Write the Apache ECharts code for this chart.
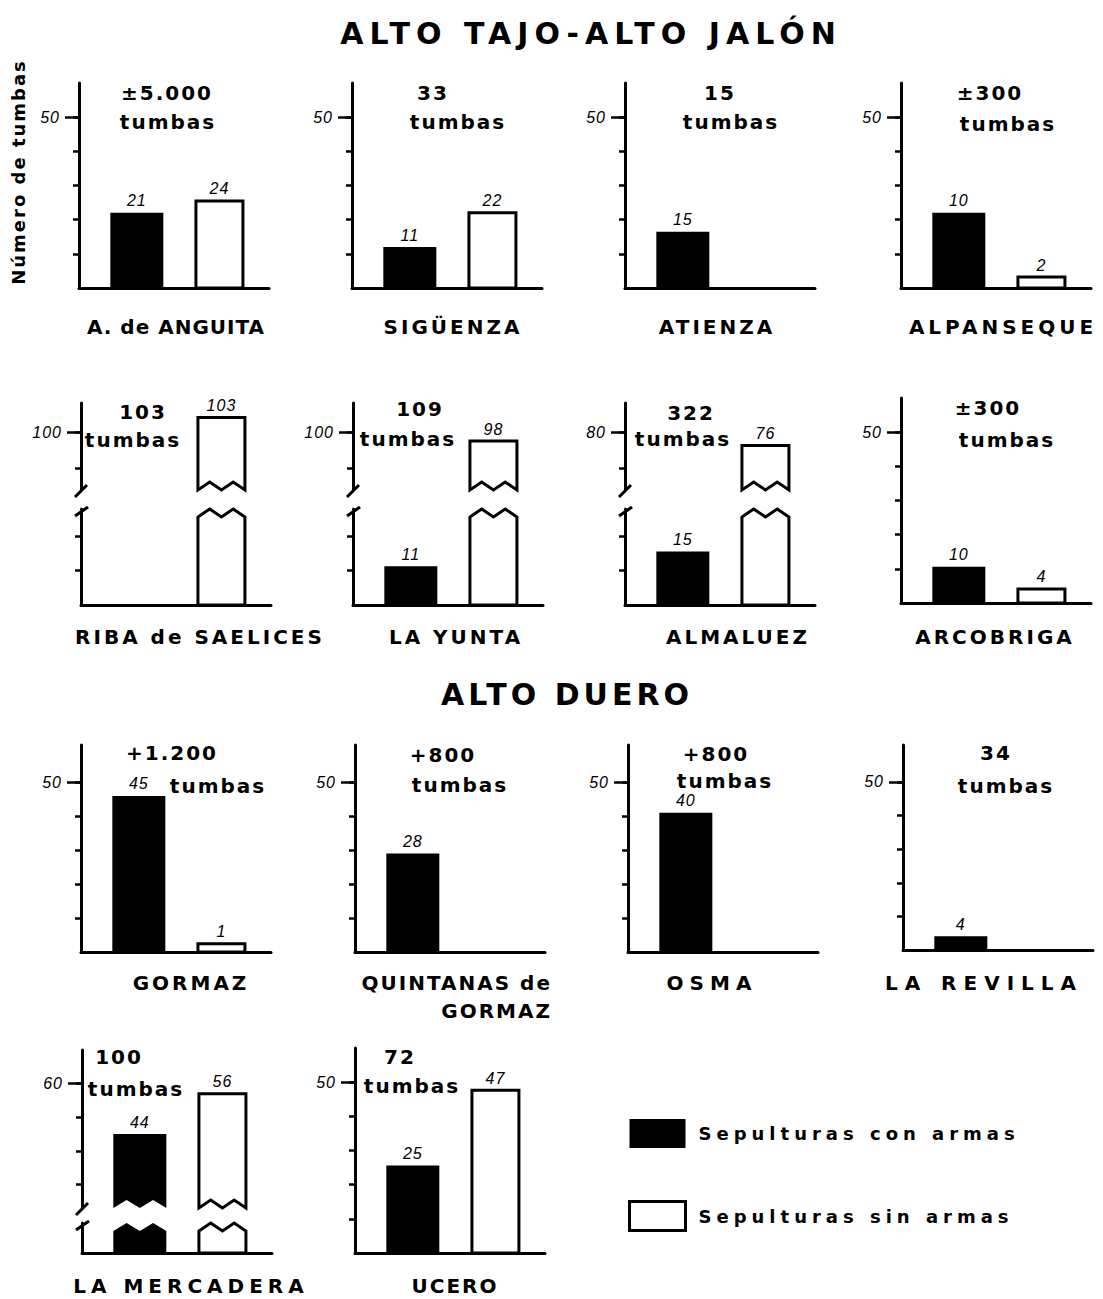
<!DOCTYPE html>
<html>
<head>
<meta charset="utf-8">
<script src="https://cdn.jsdelivr.net/npm/echarts@6/dist/echarts.min.js"></script>
<style>
  html, body { margin: 0; padding: 0; background: #fff; }
  #chart { width: 1103px; height: 1299px; }
  /* espaciado de letras: la familia "lsNx" no existe, sólo sirve de marca */
  #chart text[style*="ls1x"], #chart text[font-family*="ls1x"] { letter-spacing: 1px; }
  #chart text[style*="ls2x"], #chart text[font-family*="ls2x"] { letter-spacing: 2px; }
  #chart text[style*="ls3x"], #chart text[font-family*="ls3x"] { letter-spacing: 3px; }
  #chart text[style*="ls4x"], #chart text[font-family*="ls4x"] { letter-spacing: 4px; }
  #chart text[style*="ls5x"], #chart text[font-family*="ls5x"] { letter-spacing: 5px; }
  #chart text[style*="ls6x"], #chart text[font-family*="ls6x"] { letter-spacing: 6px; }
  #chart text[style*="ls7x"], #chart text[font-family*="ls7x"] { letter-spacing: 7px; }
</style>
</head>
<body>
<div id="chart"></div>
<script>
// ---- datos ----
const sitios = ['A. de ANGUITA', 'SIGÜENZA', 'ATIENZA', 'ALPANSEQUE',
  'RIBA de SAELICES', 'LA YUNTA', 'ALMALUEZ', 'ARCOBRIGA',
  'GORMAZ', 'QUINTANAS de\nGORMAZ', 'OSMA', 'LA REVILLA',
  'LA MERCADERA', 'UCERO']
const totales = ['±5.000', '33', '15', '±300', '103', '109', '322', '±300',
  '+1.200', '+800', '+800', '34', '100', '72']
// altura dibujada de cada barra
const conArmas = [22, 12, 16.5, 22, null, 11.3, 15.6, 10.6, 46, 29, 41, 4.1, 45, 25.6]
const sinArmas = [25.5, 22, null, 3.2, 104, 97.5, 76.3, 4.1, 2.4, null, null, null, 57, 47.6]
// cifra escrita sobre cada barra
const etiqCon = ['21', '11', '15', '10', '', '11', '15', '10', '45', '28', '40', '4', '44', '25']
const etiqSin = ['24', '22', '', '2', '103', '98', '76', '4', '1', '', '', '', '56', '47']
// valor rotulado en cada eje
const rotuloEje = [50, 50, 50, 50, 100, 100, 80, 50, 50, 50, 50, 50, 60, 50]
const marcas = [10, 20, 30, 40, 50]
const tituloSup = 'ALTO TAJO-ALTO JALÓN'
const tituloInf = 'ALTO DUERO'
const tituloEje = 'Número de tumbas'
const palabraTumbas = 'tumbas'
const leyenda = ['Sepulturas con armas', 'Sepulturas sin armas']

// ---- disposición ----
const ejeX    = [79, 352, 625, 901, 81, 353, 625, 901, 81, 355, 628, 903, 82, 355]
const ejeTop  = [83, 83, 83, 83, 403, 403, 403, 398, 745, 745, 745, 745, 1050, 1048]
const ejeBase = [288, 288, 288, 288, 605, 605, 605, 603, 952, 952, 952, 950, 1253, 1253]
const ejeMax  = [60, 60, 60, 60, null, null, null, 60, 61, 61, 61, 61, null, 60]
// paneles con el eje cortado
const cortes = {
  4:  { uBot: 490, lTop: 509, umin: 84, umax: 108, lmax: 28, uTicks: [90, 100], lTicks: [10, 20] },
  5:  { uBot: 490, lTop: 509, umin: 84, umax: 108, lmax: 28, uTicks: [90, 100], lTicks: [10, 20] },
  6:  { uBot: 490, lTop: 509, umin: 64, umax: 88, lmax: 28, uTicks: [70, 80], lTicks: [10, 20] },
  12: { uBot: 1208, lTop: 1223, umin: 23, umax: 70, lmax: 9, uTicks: [30, 40, 50, 60], lTicks: [] },
}
// centro de la cifra total y de "tumbas"
const cabX  = [167, 433, 720, 990, 143, 420, 691, 988, 172, 443, 716, 996, 119, 400]
const cabY  = [93, 93, 93, 93, 412, 409, 413, 408, 753, 755, 754, 753, 1057, 1057]
const tumX  = [168, 458, 731, 1008, 133, 408, 683, 1007, 218, 460, 725, 1006, 136, 412]
const tumY  = [122, 122, 122, 124, 440, 439, 439, 440, 786, 785, 781, 786, 1089, 1086]
// nombre del yacimiento
const nomX  = [176, 453, 717, 1003, 200, 456, 738, 995, 191, 552, 712, 984, 191, 455]
const nomY  = [327, 327, 327, 327, 637, 637, 637, 637, 983, 969, 983, 983, 1286, 1286]
const nomLs = [1, 3, 3, 4, 3, 3, 3, 3, 3, 2, 6, 7, 5, 2]

const negro = '#000'
const ANCHO = 190
const grids = [], xAxes = [], yAxes = [], series = [], graphics = []

function barra(k, texto) {
  return function (params, api) {
    const cs = params.coordSys
    const x = api.value(0), v = api.value(1)
    const p = api.coord([x, v])
    const yBase = api.coord([x, 0])[1]
    const gTop = cs.y, gBot = cs.y + cs.height
    if (p[1] >= gBot - 0.5) return null
    const w = k === 0 ? 53 : 47
    const x0 = p[0] - w / 2, x1 = p[0] + w / 2
    const A = 8
    const cutTop = p[1] < gTop - 0.5
    const cutBot = yBase > gBot + 0.5
    const pts = []
    if (cutTop) pts.push([x0, gTop + A], [x0 + w / 4, gTop], [x0 + w / 2, gTop + A], [x0 + 3 * w / 4, gTop], [x1, gTop + A])
    else pts.push([x0, p[1]], [x1, p[1]])
    if (cutBot) pts.push([x1, gBot], [x0 + 3 * w / 4, gBot - A], [x0 + w / 2, gBot], [x0 + w / 4, gBot - A], [x0, gBot])
    else pts.push([x1, yBase], [x0, yBase])
    const children = [{
      type: 'polygon',
      shape: { points: pts },
      style: k === 0 ? { fill: negro } : { fill: '#fff', stroke: negro, lineWidth: 3, lineJoin: 'miter' },
    }]
    if (!cutTop && texto) {
      children.push({
        type: 'text',
        style: { text: texto, x: p[0], y: p[1] - 4, textAlign: 'center', textVerticalAlign: 'bottom',
          font: 'italic 16px Liberation Sans, ls1x', fill: negro },
      })
    }
    return { type: 'group', children }
  }
}

function tramo(i, top, bottom, ymin, ymax, ticks, lab, base) {
  const gi = grids.length
  grids.push({ left: ejeX[i], top, width: ANCHO, height: bottom - top })
  xAxes.push({
    gridIndex: gi, type: 'value', min: -0.7, max: 1.6,
    axisLine: { show: base, onZero: false, lineStyle: { color: negro, width: 3 } },
    axisTick: { show: false }, axisLabel: { show: false }, splitLine: { show: false },
  })
  const yi = yAxes.length
  yAxes.push({
    gridIndex: gi, type: 'value', position: 'left', min: ymin, max: ymax,
    axisLine: { show: true, onZero: false, lineStyle: { color: negro, width: 3 } },
    axisTick: { show: ticks.length > 0, customValues: ticks, length: 6, lineStyle: { color: negro, width: 2.5 } },
    axisLabel: { show: false }, splitLine: { show: false },
  })
  if (lab != null) {
    // segundo eje superpuesto: sólo la marca larga y su rótulo
    yAxes.push({
      gridIndex: gi, type: 'value', position: 'left', offset: 0, min: ymin, max: ymax,
      axisLine: { show: false, onZero: false },
      axisTick: { show: true, customValues: [lab], length: 14, lineStyle: { color: negro, width: 2.5 } },
      axisLabel: { show: true, customValues: [lab], margin: 19, color: negro,
        fontStyle: 'italic', fontSize: 16, fontFamily: 'Liberation Sans, ls1x' },
      splitLine: { show: false },
    })
  }
  ;[conArmas[i], sinArmas[i]].forEach((v, k) => {
    series.push({
      type: 'custom', name: leyenda[k], xAxisIndex: gi, yAxisIndex: yi,
      data: v == null ? [] : [[k, v]],
      renderItem: barra(k, k === 0 ? etiqCon[i] : etiqSin[i]),
      silent: true,
    })
  })
}

function linea(x1, y1, x2, y2) {
  graphics.push({ type: 'line', shape: { x1, y1, x2, y2 }, style: { stroke: negro, lineWidth: 3 } })
}

function texto(t, x, y, font, extra) {
  graphics.push({ type: 'text', x, y, ...(extra || {}),
    style: { text: t, x: 0, y: 0, textAlign: 'center', textVerticalAlign: 'middle', font, fill: negro } })
}

sitios.forEach((s, i) => {
  const c = cortes[i]
  if (c) {
    tramo(i, ejeTop[i], c.uBot, c.umin, c.umax, c.uTicks, rotuloEje[i], false)
    tramo(i, c.lTop, ejeBase[i], 0, c.lmax, c.lTicks, null, true)
    const ax = ejeX[i]
    linea(ax - 6, c.uBot + 7, ax + 6, c.uBot - 5)
    linea(ax - 6, c.lTop + 7, ax + 7, c.lTop - 2)
  } else {
    tramo(i, ejeTop[i], ejeBase[i], 0, ejeMax[i], marcas, rotuloEje[i], true)
  }
  texto(totales[i], cabX[i], cabY[i], 'bold 20px DejaVu Sans, ls2x')
  texto(palabraTumbas, tumX[i], tumY[i], 'bold 20px DejaVu Sans, ls2x')
  if (s.indexOf('\n') >= 0) {
    graphics.push({ type: 'text', x: nomX[i], y: nomY[i],
      style: { text: s, x: 0, y: 0, textAlign: 'right', textVerticalAlign: 'top', lineHeight: 28,
        font: 'bold 20px DejaVu Sans, ls' + nomLs[i] + 'x', fill: negro } })
  } else {
    texto(s, nomX[i], nomY[i], 'bold 20px DejaVu Sans, ls' + nomLs[i] + 'x')
  }
})

texto(tituloSup, 591, 33, 'bold 30px DejaVu Sans, ls6x')
texto(tituloInf, 567, 694, 'bold 30px DejaVu Sans, ls4x')
texto(tituloEje, 18, 172, 'bold 18px DejaVu Sans, ls2x', { rotation: Math.PI / 2 })

const chart = echarts.init(document.getElementById('chart'), null, { renderer: 'svg' })
chart.setOption({
  animation: false,
  backgroundColor: '#fff',
  grid: grids,
  xAxis: xAxes,
  yAxis: yAxes,
  series,
  graphic: graphics,
  legend: {
    orient: 'vertical', left: 623, top: 1114,
    itemWidth: 56, itemHeight: 29, itemGap: 52,
    icon: 'rect', selectedMode: false,
    textStyle: { color: negro, fontWeight: 'bold', fontSize: 18, fontFamily: 'DejaVu Sans, ls5x', padding: [0, 0, 0, 8] },
    data: [
      { name: leyenda[0], itemStyle: { color: negro } },
      { name: leyenda[1], itemStyle: { color: '#fff', borderColor: negro, borderWidth: 3 } },
    ],
  },
})
window.addEventListener('resize', () => chart.resize())
</script>
</body>
</html>
